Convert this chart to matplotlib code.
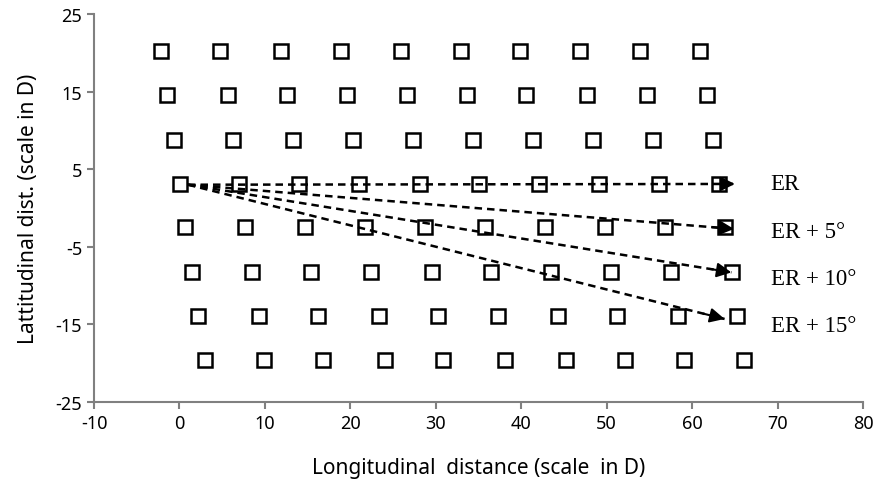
import matplotlib.pyplot as plt

plt.rcParams['axes.unicode_minus'] = False

#### grid of target points (scale in D)

row_y = [20.2, 14.5, 8.8, 3.1, -2.5, -8.2, -13.9, -19.6]
row_x = [
    [-2.2, 4.8, 11.9, 18.9, 25.9, 32.9, 39.9, 46.9, 53.9, 60.9],
    [-1.5, 5.7, 12.6, 19.6, 26.6, 33.6, 40.6, 47.7, 54.7, 61.7],
    [-0.6, 6.3, 13.3, 20.3, 27.3, 34.4, 41.4, 48.4, 55.4, 62.4],
    [0.1, 7.0, 14.0, 21.0, 28.1, 35.1, 42.1, 49.1, 56.1, 63.2],
    [0.7, 7.7, 14.7, 21.7, 28.7, 35.8, 42.8, 49.8, 56.8, 63.8],
    [1.5, 8.5, 15.4, 22.4, 29.5, 36.5, 43.5, 50.5, 57.5, 64.7],
    [2.2, 9.3, 16.2, 23.3, 30.2, 37.3, 44.3, 51.2, 58.4, 65.3],
    [3.0, 9.9, 16.8, 24.1, 30.9, 38.1, 45.2, 52.1, 59.1, 66.1],
]

# arrows from the start point
start = (1.0, 3.0)
arrow_end_x = [65.0, 64.9, 64.6, 63.8]
arrow_end_y = [3.1, -2.7, -8.3, -14.3]
arrow_labels = ['ER', 'ER + 5°', 'ER + 10°', 'ER + 15°']
label_y = [3.1, -3.0, -9.1, -15.2]

fig = plt.figure(figsize=(8.81, 4.89), dpi=100)
ax = fig.add_axes([0.1067, 0.1759, 0.8729, 0.7934])

for x, y in zip(row_x, row_y):
    ax.plot(x, [y] * len(x), 's', ms=10.5, mfc='white', mec='black', mew=1.8,
            linestyle='none', zorder=2)

for ex, ey, lab, ly in zip(arrow_end_x, arrow_end_y, arrow_labels, label_y):
    ax.plot([start[0], ex], [start[1], ey], color='black', lw=1.8,
            linestyle=(0, (3, 2)), zorder=3)
    dx = ex - start[0]
    dy = ey - start[1]
    ax.annotate('', xy=(ex, ey), xytext=(ex - dx * 0.04, ey - dy * 0.04),
                arrowprops=dict(arrowstyle='-|>', color='black', lw=1.5,
                                mutation_scale=22, shrinkA=0, shrinkB=0),
                zorder=4)
    ax.text(69.2, ly, lab, fontsize=16.5, family='Liberation Serif',
            va='center', ha='left')

ax.set_xlim(-10, 80)
ax.set_ylim(-25, 25)
ax.set_xticks(range(-10, 81, 10))
ax.set_yticks([-25, -15, -5, 5, 15, 25])

ax.spines['top'].set_visible(False)
ax.spines['right'].set_visible(False)
for s in ['left', 'bottom']:
    ax.spines[s].set_color('#808080')
    ax.spines[s].set_linewidth(1.5)
ax.tick_params(colors='#808080', labelcolor='black', labelsize=13,
               length=5, width=1.5, direction='out')
for t in ax.get_xticklabels() + ax.get_yticklabels():
    t.set_family('Noto Sans')

ax.set_xlabel('Longitudinal  distance (scale  in D)', fontsize=15,
              family='Noto Sans', labelpad=18)
ax.set_ylabel('Lattitudinal dist. (scale in D)', fontsize=15,
              family='Noto Sans', labelpad=12)

plt.savefig('out.png', dpi=100)
